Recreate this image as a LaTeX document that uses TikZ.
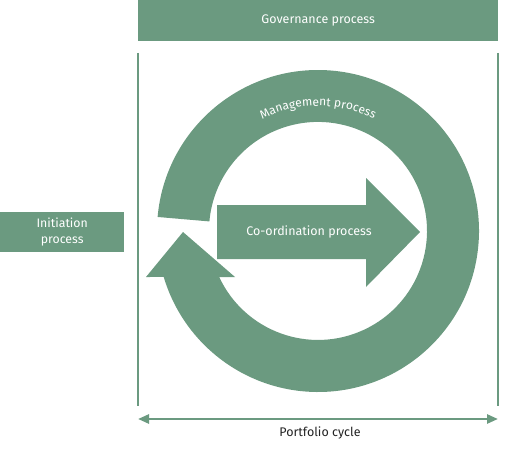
\documentclass[tikz,border=0pt]{standalone}
\usepackage{fontspec}
\setmainfont{Fira Sans}
\usetikzlibrary{arrows.meta,decorations.text}
\definecolor{gr}{HTML}{6B9A80}
\definecolor{tx}{HTML}{222222}
\tikzset{
  x=1pt,y=1pt,
  greenbox/.style={fill=gr,draw=none,inner sep=0pt},
  boxtext/.style={text=white,font=\fontsize{12.5}{15}\selectfont,align=center},
  sideline/.style={draw=gr,line width=2pt},
}
\begin{document}
\begin{tikzpicture}
\useasboundingbox (0,0) rectangle (511,448);
% governance
\node[greenbox,minimum width=360pt,minimum height=41pt,anchor=north west] (gov) at (138,448) {};
\node[boxtext] (govt) at (gov.center) {Governance process};
% initiation
\node[greenbox,minimum width=124pt,minimum height=40pt,anchor=north west] (ini) at (0,236) {};
\node[boxtext,font=\fontsize{12.3}{16.5}\selectfont] (init) at (ini.center) {Initiation\\process};
% vertical lines
\coordinate (l1) at (138,395); \coordinate (l2) at (138,42);
\coordinate (r1) at (498,395); \coordinate (r2) at (498,42);
\draw[sideline] (l1) -- (l2);
\draw[sideline] (r1) -- (r2);
% portfolio arrow
\coordinate (pa) at (138,29); \coordinate (pb) at (498,29);
\draw[draw=gr,line width=2.5pt,{Triangle[length=11pt,width=9pt]}-{Triangle[length=11pt,width=9pt]}] (pa) -- (pb);
\node[text=tx,font=\fontsize{12.5}{15}\selectfont] (pc) at (320,15) {Portfolio cycle};
% ring
\coordinate (c) at (318,217);
\fill[gr] (c) ++(175:161) arc[start angle=175,end angle=-163.4,radius=161]
  -- (146,171) -- (183,216) -- (235,171) -- (219.2,171)
  arc[start angle=-155,end angle=175,radius=109] -- cycle;
\path[decorate,decoration={text along path,text align=center,
  text={|\fontsize{12}{14}\selectfont\color{white}|Management process}}]
  (c) ++(130:125) arc[start angle=130,end angle=50,radius=125];
% coordination arrow
\fill[gr] (217,243) -- (366,243) -- (366,270) -- (420,216) -- (366,161) -- (366,189) -- (217,189) -- cycle;
\node[boxtext] (co) at (309,216) {Co-ordination process};
\end{tikzpicture}
\end{document}
